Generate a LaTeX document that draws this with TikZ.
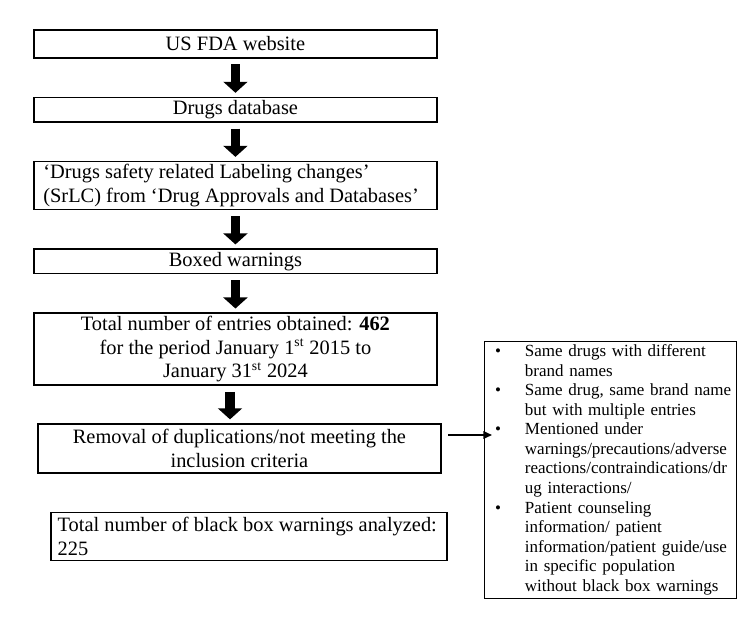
\documentclass[tikz,border=0pt]{standalone}
\usepackage{fontspec}
\setmainfont{Liberation Serif}
\usetikzlibrary{positioning,arrows.meta}

\begin{document}
\begin{tikzpicture}[node distance=22.3pt,
  every node/.style={font=\fontsize{12}{13.8}\selectfont},
  flowbox/.style={draw, line width=1pt, align=center, minimum width=237.2pt, minimum height=14.4pt, inner xsep=2pt, inner ysep=0.5pt},
  blockarrow/.style={line width=5.3pt, -{Triangle[width=14pt,length=6.5pt]}, shorten <=3.4pt, shorten >=2.2pt}]
  \useasboundingbox (0,0) rectangle (441.2pt,-362.9pt);

  \node[flowbox, anchor=north, minimum height=16.2pt] (fda) at (138.5pt,-17.3pt) {US FDA website};
  \node[flowbox, below=of fda] (db) {Drugs database};
  \node[flowbox, below=of db, align=flush left, text width=226pt, inner xsep=5.6pt, minimum height=28.2pt] (srlc) {‘Drugs safety related Labeling changes’\\(SrLC) from ‘Drug Approvals and Databases’};
  \node[flowbox, below=of srlc] (boxed) {Boxed warnings};
  \node[flowbox, below=of boxed, minimum height=42.4pt] (total) {Total number of entries obtained: \textbf{462}\\for the period January 1\textsuperscript{st} 2015 to\\January 31\textsuperscript{st} 2024};
  \node[flowbox, below=21.8pt of total, xshift=2.35pt, minimum height=28.8pt] (removal) {Removal of duplications/not meeting the\\inclusion criteria};
  \node[flowbox, below=of removal, xshift=5.55pt, align=flush left, text width=225pt, inner xsep=4.05pt, minimum width=233.1pt, minimum height=28.2pt] (final) {Total number of black box warnings analyzed:\\225};

  % excluded entries
  \node[draw, line width=0.8pt, anchor=north west, inner sep=0pt, minimum width=148pt, minimum height=151pt, text width=148pt, font=\fontsize{10}{11.5}\selectfont] (reasons) at (284.7pt,-200.6pt) {\noindent\begin{tabular}{@{}p{23.7pt}@{}l@{}}
    \hspace*{6.1pt}\textbullet & Same drugs with different\\
     & brand names\\
    \hspace*{6.1pt}\textbullet & Same drug, same brand name\\
     & but with multiple entries\\
    \hspace*{6.1pt}\textbullet & Mentioned under\\
     & warnings/precautions/adverse\\
     & reactions/contraindications/dr\\
     & ug interactions/\\
    \hspace*{6.1pt}\textbullet & Patient counseling\\
     & information/ patient\\
     & information/patient guide/use\\
     & in specific population\\
     & without black box warnings
  \end{tabular}};
  \coordinate (hit) at (289.4pt,-255.9pt);

  \draw[blockarrow] (fda) -- (db);
  \draw[blockarrow] (db) -- (srlc);
  \draw[blockarrow] (srlc) -- (boxed);
  \draw[blockarrow] (boxed) -- (total);
  \draw[blockarrow] ([xshift=-3.2pt]total.south) -- ([xshift=-3.2pt]total.south |- removal.north);
  \draw[line width=0.7pt, -{Triangle[width=4.5pt,length=5pt]}] ([xshift=3.8pt]removal.east |- hit) -- (hit);
\end{tikzpicture}
\end{document}
